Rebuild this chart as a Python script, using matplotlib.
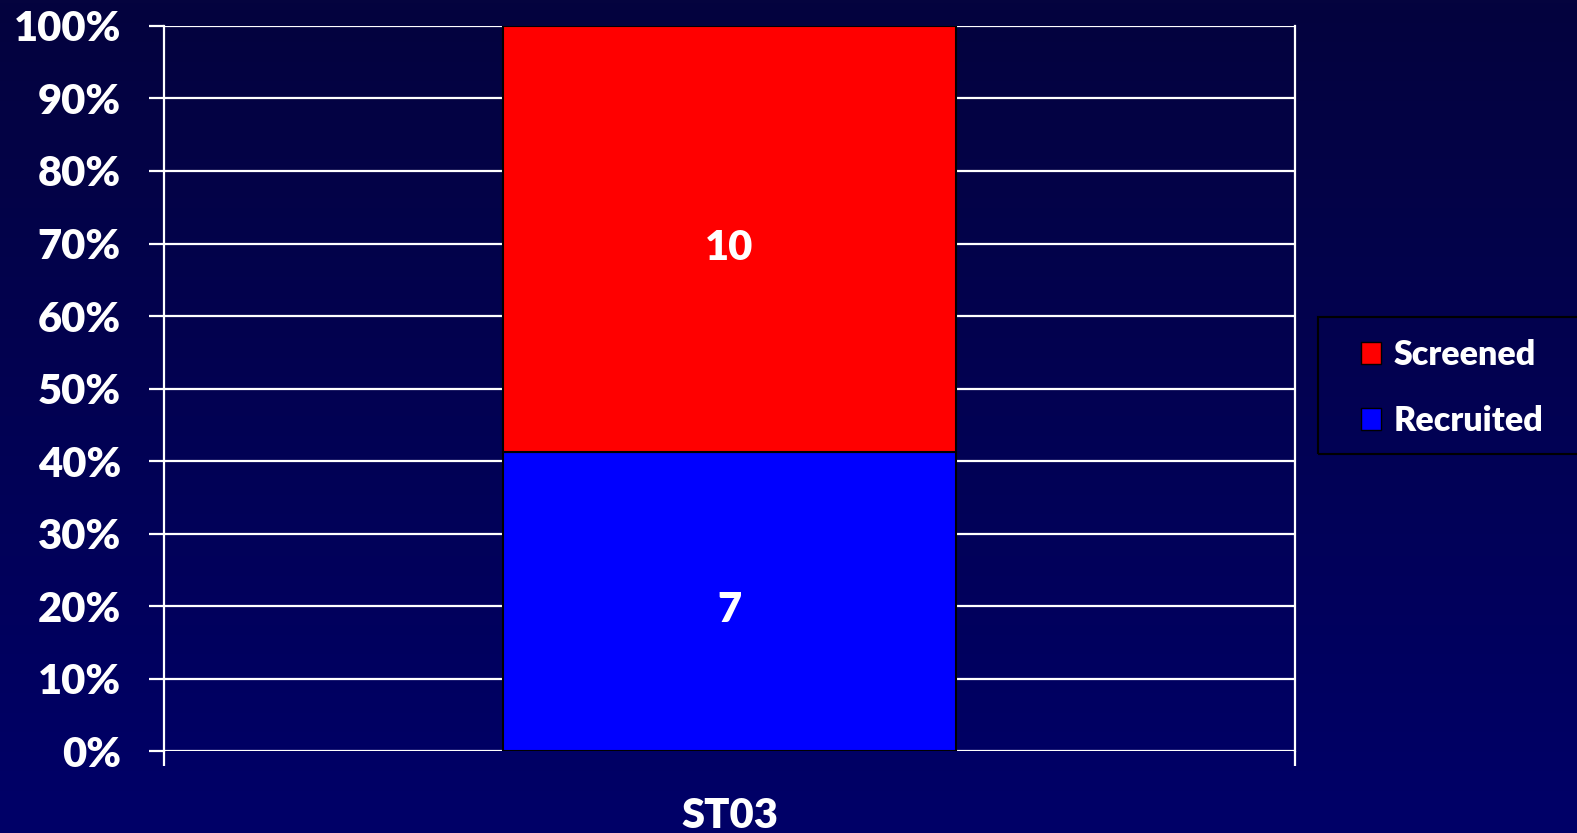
import numpy as np
import matplotlib
matplotlib.use("Agg")
import matplotlib.pyplot as plt
from matplotlib.patches import Patch, Rectangle

# data
sites = ["ST03"]
recruited = np.array([7])
screened = np.array([10])
ticks = np.arange(0, 101, 10)

plt.rcParams['font.family'] = ['Lato', 'DejaVu Sans']
plt.rcParams['font.weight'] = 'heavy'

total = recruited + screened
rec_pct = recruited / total * 100
scr_pct = screened / total * 100

fig = plt.figure(figsize=(15.77, 8.33), dpi=100)

# gradient background
bg = fig.add_axes([0, 0, 1, 1], zorder=-10)
grad = np.linspace(0, 1, 256).reshape(-1, 1)
top = np.array([4, 3, 62]) / 255
bot = np.array([0, 0, 104]) / 255
img = top + grad[..., None] * (bot - top)
bg.imshow(img, aspect='auto', extent=[0, 1, 0, 1], origin='upper')
bg.axis('off')

ax = fig.add_axes([0.104, 0.0984, 0.7172, 0.8704])
ax.patch.set_alpha(0)

x = np.arange(len(sites))
ax.bar(x, rec_pct, width=0.4, color='#0000ff', edgecolor='black', linewidth=1.5, zorder=3)
ax.bar(x, scr_pct, width=0.4, bottom=rec_pct, color='#ff0000', edgecolor='black',
       linewidth=1.5, zorder=3)

for xi, r, s, rv, sv in zip(x, rec_pct, scr_pct, recruited, screened):
    ax.annotate(str(rv), (xi, r / 2), xytext=(0, -6), textcoords='offset points',
                ha='center', va='center', color='white', fontsize=30, zorder=4)
    ax.annotate(str(sv), (xi, r + s / 2), xytext=(0, -6), textcoords='offset points',
                ha='center', va='center', color='white', fontsize=30, zorder=4)

ax.set_xlim(-0.5, 0.5)
ax.set_ylim(0, 100)
ax.set_yticks(ticks)
ax.set_yticklabels([f"{t}%" for t in ticks])
ax.yaxis.grid(True, color='white', linewidth=1.6, zorder=1)
ax.set_axisbelow(True)

ax.set_xticks([-0.5, 0.5])
ax.set_xticklabels([])
ax.set_xticks(x, minor=True)
ax.set_xticklabels(sites, minor=True)
ax.tick_params(axis='x', which='minor', length=0, pad=33, labelsize=30, labelcolor='white')
ax.tick_params(axis='x', which='major', length=11, width=1.6, color='white')
ax.tick_params(axis='y', length=11, width=1.6, color='white', pad=20,
               labelsize=30, labelcolor='white')

for side in ['left', 'right']:
    ax.spines[side].set_color('white')
    ax.spines[side].set_linewidth(1.6)
ax.spines['top'].set_visible(False)
ax.spines['bottom'].set_visible(False)

# legend box
fig.patches.append(Rectangle((1318 / 1577, 1 - 454 / 833), 0.2, 137 / 833,
                             transform=fig.transFigure, facecolor='none',
                             edgecolor='black', linewidth=1.5))
handles = [Patch(facecolor='#ff0000', edgecolor='black', label='Screened'),
           Patch(facecolor='#0000ff', edgecolor='black', label='Recruited')]
leg = fig.legend(handles=handles, loc='center left', bbox_to_anchor=(1361 / 1577, 1 - 388 / 833),
                 bbox_transform=fig.transFigure, borderaxespad=0, borderpad=0, frameon=False,
                 fontsize=24.5, handlelength=0.6, handleheight=0.6, handletextpad=0.35,
                 labelspacing=1.0)
for t in leg.get_texts():
    t.set_color('white')

fig.savefig('out.png', dpi=100)
